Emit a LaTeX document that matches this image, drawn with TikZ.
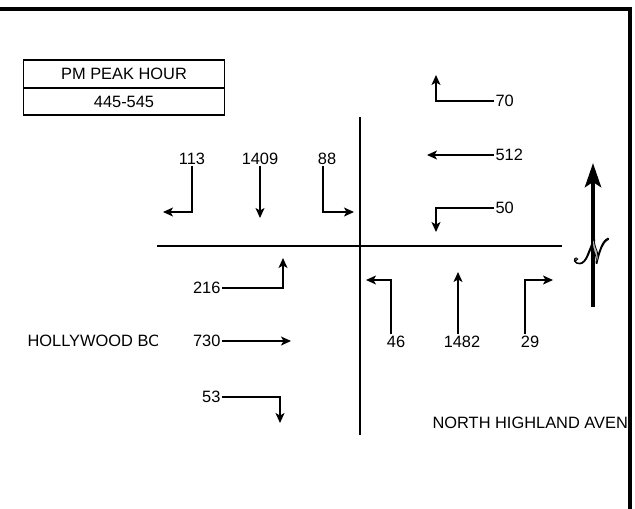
\documentclass[tikz,border=0pt]{standalone}
\usepackage{fontspec}
\setmainfont{Liberation Sans}
\usepackage{mathrsfs}
\usepackage{graphicx}
\usetikzlibrary{arrows.meta,positioning}
\newcommand\outlined[1]{\special{pdf:literal direct 2 Tr 0 G 0.6 w}#1\special{pdf:literal direct 0 Tr}}

\begin{document}
\begin{tikzpicture}[x=1pt,y=-1pt,line width=1.2pt,font=\fontsize{16.4}{19}\selectfont,
  mv/.style={-{Stealth[length=10pt,width=9pt,inset=2.5pt]}},
  vol/.style={inner sep=1pt},
  hbox/.style={draw,line width=1.6pt,minimum width=201pt,inner sep=0pt,outer sep=0pt},
  street/.style={line width=2pt}]
\useasboundingbox (0,0) rectangle (635,509);
\draw[line width=4pt] (-3,9) -| (630,512);
\node[hbox,minimum height=28pt] (hdr) at (124,74) {PM PEAK HOUR};
\node[hbox,minimum height=27pt,below=0pt of hdr] (per) {445-545};
\draw[street] (157,246)--(562,246) (360,117)--(360,435);
\coordinate (t113) at (163,212);
\coordinate (t1409) at (260,218);
\coordinate (t88) at (354,212);
\coordinate (t70) at (436,75);
\coordinate (t512) at (427,155);
\coordinate (t50) at (436,232);
\coordinate (t216) at (283,258);
\coordinate (t730) at (291,341);
\coordinate (t53) at (280,423);
\coordinate (t46) at (366,280);
\coordinate (t1482) at (458,272);
\coordinate (t29) at (553,280);
\node[vol,anchor=south] (v113) at (192,166) {113};
\node[vol,anchor=south] (v1409) at (260,166) {1409};
\node[vol,anchor=south] (v88) at (327,166) {88};
\node[vol,anchor=west] (v70) at (494,101) {70};
\node[vol,anchor=west] (v512) at (494,155) {512};
\node[vol,anchor=west] (v50) at (494,208) {50};
\node[vol,anchor=east] (v216) at (222,288) {216};
\node[vol,anchor=east] (v730) at (222,341) {730};
\node[vol,anchor=east] (v53) at (222,397) {53};
\node[vol,anchor=north] (v46) at (396,334) {46};
\node[vol,anchor=north] (v1482) at (462,334) {1482};
\node[vol,anchor=north] (v29) at (530,334) {29};
\draw[mv] (v113.south) |- (t113);
\draw[mv] (v1409.south) -- (t1409);
\draw[mv] ([xshift=-4pt]v88.south) |- (t88);
\draw[mv] (v70.west) -| (t70);
\draw[mv] (v512.west) -- (t512);
\draw[mv] (v50.west) -| (t50);
\draw[mv] (v216.east) -| (t216);
\draw[mv] (v730.east) -- (t730);
\draw[mv] (v53.east) -| (t53);
\draw[mv] ([xshift=-5pt]v46.north) |- (t46);
\draw[mv] (v1482.north -| t1482) -- (t1482);
\draw[mv] ([xshift=-5pt]v29.north) |- (t29);
\begin{scope}
\clip (0,300) rectangle (157,380);
\node[anchor=west,inner sep=0pt] (hlw) at (27,341) {HOLLYWOOD BO};
\end{scope}
\begin{scope}
\clip (400,400) rectangle (627,450);
\node[anchor=west,inner sep=0pt] (nha) at (432,423) {NORTH HIGHLAND AVEN};
\end{scope}
\draw[line width=4.5pt,-{Stealth[length=24pt,width=16pt,inset=5pt]}] (593,307) -- (593,163);
\begin{scope}[shift={(592,251)},xslant=-0.3]
\node[text=gray!55,transform shape,inner sep=0pt] (nsym) at (0,0) {\fontsize{24.88}{26}\selectfont\scalebox{1.4}{\outlined{$\mathscr{N}$}}};
\end{scope}
\end{tikzpicture}
\end{document}
